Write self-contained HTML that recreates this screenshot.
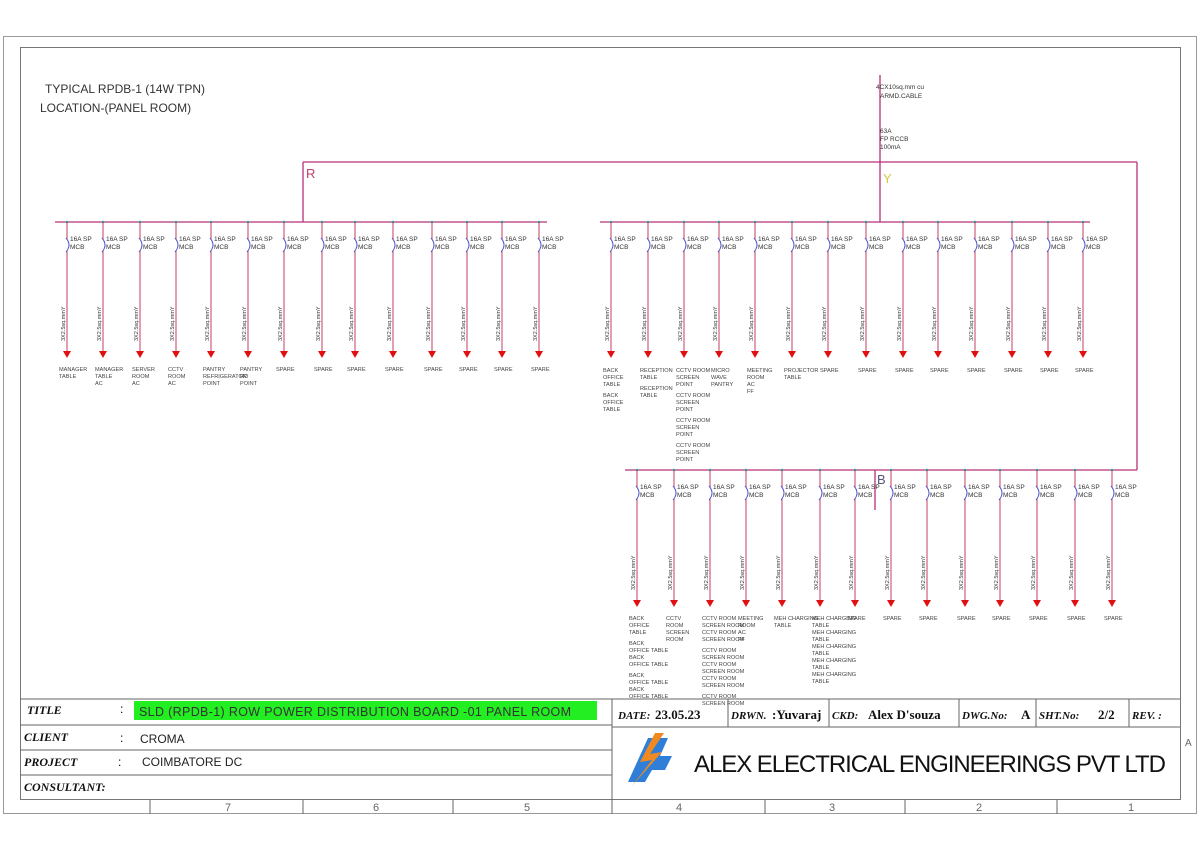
<!DOCTYPE html><html><head><meta charset="utf-8"><style>
body{margin:0;background:#fff;width:1200px;height:849px;overflow:hidden;font-family:"Liberation Sans",sans-serif}
</style></head><body>
<svg id="s" width="1200" height="849" xmlns="http://www.w3.org/2000/svg" font-family="Liberation Sans, sans-serif">
<rect x="3.5" y="36.5" width="1193" height="777" fill="none" stroke="#999"/>
<rect x="20.5" y="47.5" width="1160" height="752" fill="none" stroke="#777"/>
<text x="45" y="93" font-size="12" fill="#333">TYPICAL RPDB-1 (14W TPN)</text>
<text x="40" y="112" font-size="12" fill="#333">LOCATION-(PANEL ROOM)</text>
<g stroke="#b8307a" stroke-width="1.3" fill="none">
<line x1="880" y1="75" x2="880" y2="162"/>
<line x1="303" y1="162" x2="1137" y2="162"/>
<line x1="303" y1="162" x2="303" y2="222"/>
<line x1="880" y1="162" x2="880" y2="222"/>
<line x1="1137" y1="162" x2="1137" y2="470"/>
<line x1="875" y1="470" x2="875" y2="510"/>
<line x1="55" y1="222" x2="547" y2="222"/>
<line x1="600" y1="222" x2="1090" y2="222"/>
<line x1="625" y1="470" x2="1137" y2="470"/>
</g>
<text x="876" y="89" font-size="6.5" fill="#333">4CX10sq.mm cu</text>
<text x="880" y="98" font-size="6.5" fill="#333">ARMD.CABLE</text>
<text x="880" y="133" font-size="6.5" fill="#333">63A</text>
<text x="880" y="141" font-size="6.5" fill="#333">FP RCCB</text>
<text x="880" y="149" font-size="6.5" fill="#333">100mA</text>
<text x="306" y="178" font-size="13" fill="#c04070">R</text>
<text x="883" y="183" font-size="13" fill="#cc4">Y</text>
<text x="877" y="484" font-size="13" fill="#557">B</text>
<g id="c"></g>
<g stroke="#666" fill="none">
<line x1="20" y1="699" x2="1180" y2="699"/>
<line x1="20" y1="725" x2="612" y2="725"/>
<line x1="20" y1="750" x2="612" y2="750"/>
<line x1="20" y1="775" x2="612" y2="775"/>
<line x1="612" y1="727" x2="1180" y2="727"/>
<line x1="612" y1="699" x2="612" y2="814"/>
<line x1="728" y1="699" x2="728" y2="727"/><line x1="829" y1="699" x2="829" y2="727"/>
<line x1="959" y1="699" x2="959" y2="727"/><line x1="1036" y1="699" x2="1036" y2="727"/>
<line x1="1129" y1="699" x2="1129" y2="727"/>
<line x1="150" y1="800" x2="150" y2="814"/><line x1="303" y1="800" x2="303" y2="814"/>
<line x1="453" y1="800" x2="453" y2="814"/><line x1="765" y1="800" x2="765" y2="814"/>
<line x1="905" y1="800" x2="905" y2="814"/><line x1="1057" y1="800" x2="1057" y2="814"/>
</g>
<g font-family="Liberation Serif, serif" font-style="italic" font-weight="bold" font-size="12" fill="#111">
<text x="27" y="714">TITLE</text><text x="24" y="741">CLIENT</text><text x="24" y="766">PROJECT</text><text x="24" y="791">CONSULTANT:</text>
<text x="618" y="719" font-size="11">DATE:</text><text x="731" y="719" font-size="11">DRWN.</text>
<text x="832" y="719" font-size="11">CKD:</text><text x="962" y="719" font-size="11">DWG.No:</text>
<text x="1039" y="719" font-size="11">SHT.No:</text><text x="1132" y="719" font-size="11">REV. :</text>
</g>
<g font-family="Liberation Serif, serif" font-weight="bold" font-size="13" fill="#111">
<text x="655" y="719">23.05.23</text><text x="772" y="719">:Yuvaraj</text>
<text x="868" y="719">Alex D'souza</text><text x="1021" y="719">A</text><text x="1098" y="719">2/2</text>
</g>
<text x="120" y="713" font-size="12">:</text><text x="120" y="742" font-size="12">:</text><text x="118" y="766" font-size="12">:</text>
<rect x="134" y="701" width="463" height="19" fill="#22ee22"/>
<text x="139" y="716" font-size="12.5" fill="#333" textLength="432">SLD (RPDB-1) ROW POWER DISTRIBUTION BOARD -01 PANEL ROOM</text>
<text x="140" y="743" font-size="12" fill="#222">CROMA</text>
<text x="142" y="766" font-size="12" fill="#222">COIMBATORE DC</text>
<polygon points="628,782 648,738 668,738 660,756 672,756 665,770 652,770 645,782" fill="#2f7fd8"/>
<polygon points="655,733 640,762 652,760 632,786 662,752 650,754 664,733" fill="#f08a20"/>
<text x="694" y="772" font-size="24" fill="#111" textLength="472">ALEX ELECTRICAL ENGINEERINGS PVT LTD</text>
<text x="1185" y="746" font-size="10" fill="#666">A</text>
<g font-size="11" fill="#666"><text x="225" y="811">7</text><text x="373" y="811">6</text><text x="524" y="811">5</text>
<text x="676" y="811">4</text><text x="829" y="811">3</text><text x="976" y="811">2</text><text x="1128" y="811">1</text></g>
</svg>
<script>
var g=document.getElementById('c'),h='';
function ckt(x,yb,ymcb,yarr,labels,ly){
 h+='<circle cx="'+x+'" cy="'+yb+'" r="1.3" fill="#2a9"/>';
 h+='<line x1="'+x+'" y1="'+yb+'" x2="'+x+'" y2="'+yarr+'" stroke="#c04060" stroke-width="1"/>';
 h+='<path d="M'+(x-1)+' '+(ymcb-3)+' q6 7 0 14" stroke="#55c" fill="#fff" stroke-width="1"/>';
 h+='<text x="'+(x+3)+'" y="'+ymcb+'" font-size="6.5" fill="#333">16A  SP</text>';
 h+='<text x="'+(x+3)+'" y="'+(ymcb+8)+'" font-size="6.5" fill="#333">MCB</text>';
 var ty=yarr-10;
 h+='<text transform="translate('+(x-2)+','+ty+') rotate(-90)" font-size="5.5" fill="#333">3X2.5sq.mmY</text>';
 h+='<polygon points="'+(x-4)+','+yarr+' '+(x+4)+','+yarr+' '+x+','+(yarr+7)+'" fill="#e01010"/>';
 var yy=ly;labels.forEach(function(l){ if(l===''){yy+=4;return;} h+='<text x="'+(x-8)+'" y="'+yy+'" font-size="5.6" fill="#444">'+l+'</text>';yy+=7;});
}
var p1=[67,103,140,176,211,248,284,322,355,393,432,467,502,539];
var l1=[["MANAGER","TABLE"],["MANAGER","TABLE","AC"],["SERVER","ROOM","AC"],["CCTV","ROOM","AC"],["PANTRY","REFRIGERATOR","POINT"],["PANTRY","RO","POINT"],["SPARE"],["SPARE"],["SPARE"],["SPARE"],["SPARE"],["SPARE"],["SPARE"],["SPARE"]];
p1.forEach(function(x,i){ckt(x,222,241,351,l1[i],371);});
var p2=[611,648,684,719,755,792,828,866,903,938,975,1012,1048,1083];
var l2=[["BACK","OFFICE","TABLE","","BACK","OFFICE","TABLE"],["RECEPTION","TABLE","","RECEPTION","TABLE"],["CCTV ROOM","SCREEN","POINT","","CCTV ROOM","SCREEN","POINT","","CCTV ROOM","SCREEN","POINT","","CCTV ROOM","SCREEN","POINT"],["MICRO","WAVE","PANTRY"],["MEETING","ROOM","AC","FF"],["PROJECTOR","TABLE"],["SPARE"],["SPARE"],["SPARE"],["SPARE"],["SPARE"],["SPARE"],["SPARE"],["SPARE"]];
p2.forEach(function(x,i){ckt(x,222,241,351,l2[i],372);});
var p3=[637,674,710,746,782,820,855,891,927,965,1000,1037,1075,1112];
var l3=[["BACK","OFFICE","TABLE","","BACK","OFFICE  TABLE","BACK","OFFICE  TABLE","","BACK","OFFICE  TABLE","BACK","OFFICE  TABLE"],["CCTV","ROOM","SCREEN","ROOM"],["CCTV ROOM","SCREEN ROOM","CCTV ROOM","SCREEN ROOM","","CCTV ROOM","SCREEN ROOM","CCTV ROOM","SCREEN ROOM","CCTV ROOM","SCREEN ROOM","","CCTV ROOM","SCREEN ROOM"],["MEETING","ROOM","AC","FF"],["MEH CHARGING","TABLE"],["MEH CHARGING","TABLE","MEH CHARGING","TABLE","MEH CHARGING","TABLE","MEH CHARGING","TABLE","MEH CHARGING","TABLE"],["SPARE"],["SPARE"],["SPARE"],["SPARE"],["SPARE"],["SPARE"],["SPARE"],["SPARE"]];
p3.forEach(function(x,i){ckt(x,470,489,600,l3[i],620);});
g.innerHTML=h;
</script>
</body></html>
